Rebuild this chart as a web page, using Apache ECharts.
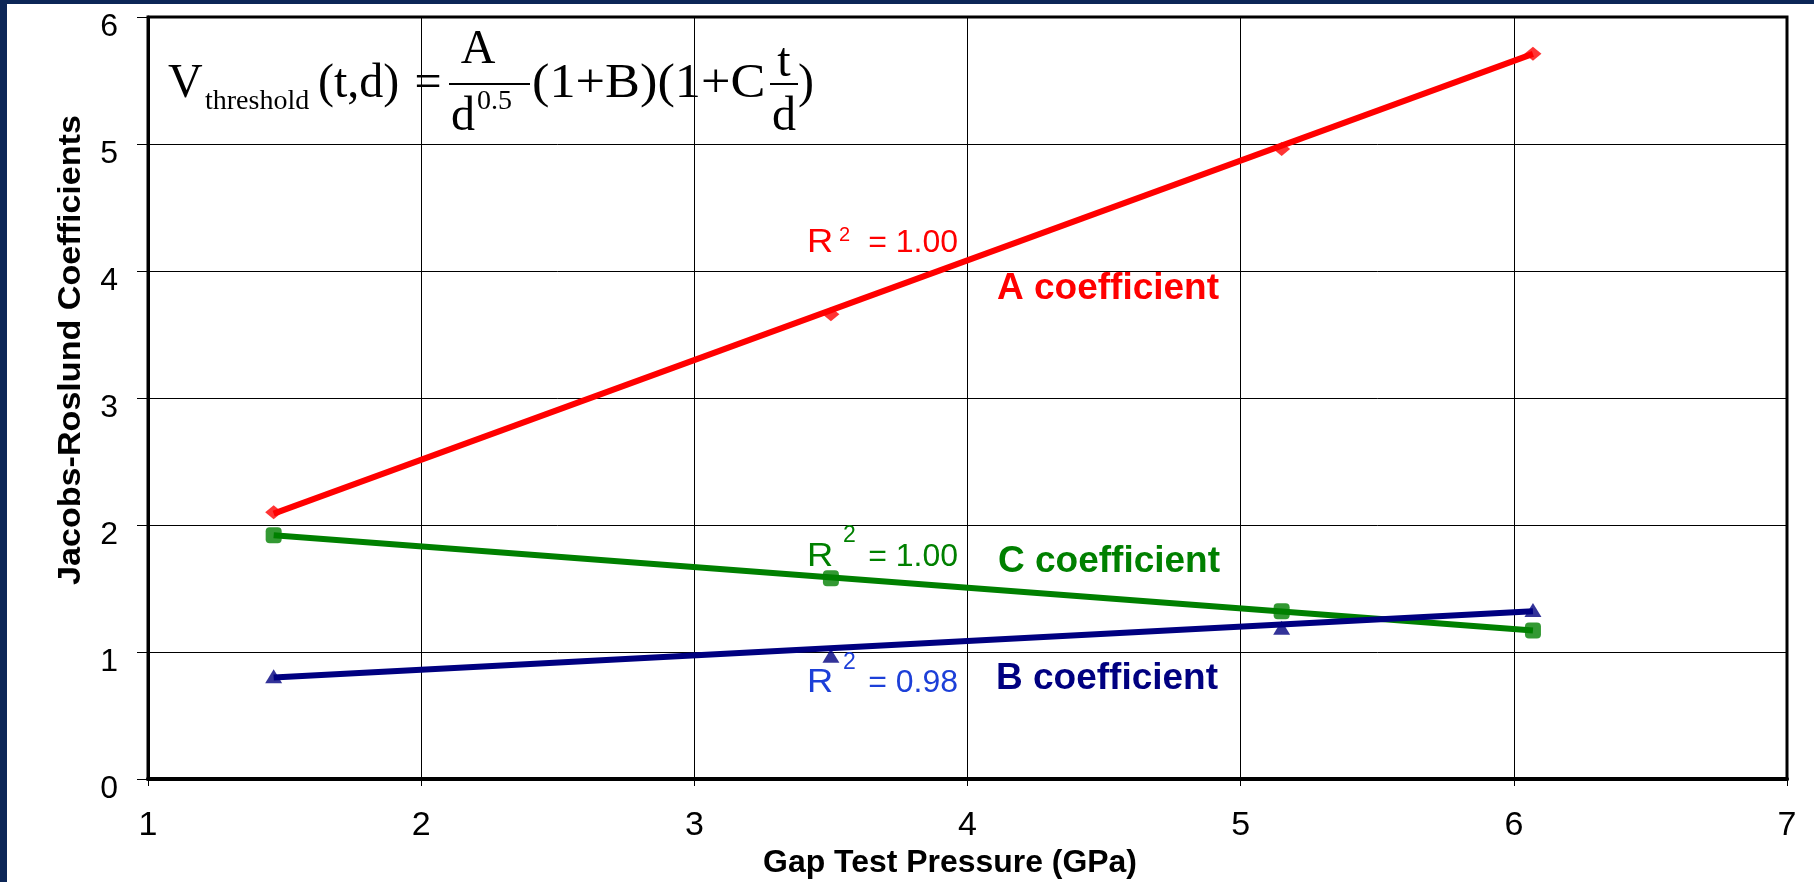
<!DOCTYPE html>
<html>
<head>
<meta charset="utf-8">
<script src="https://cdn.jsdelivr.net/npm/echarts@6/dist/echarts.min.js"></script>
<style>
html,body{margin:0;padding:0;background:#0c2657;}
#chart{width:1814px;height:882px;}
</style>
</head>
<body>
<div id="chart"></div>
<script>
// ---- data ----
const pressure = [1.46, 3.50, 5.15, 6.07];          // Gap Test Pressure (GPa)
const coefA = [2.10, 3.66, 4.96, 5.71];
const coefB = [0.81, 0.97, 1.19, 1.33];
const coefC = [1.92, 1.58, 1.32, 1.17];
// linear trendline end points (as drawn)
const trendX = [1.46, 6.07];
const trendA = [2.09, 5.71];
const trendB = [0.80, 1.32];
const trendC = [1.92, 1.17];
const xTicks = [1, 2, 3, 4, 5, 6, 7];
const yTicks = [0, 1, 2, 3, 4, 5, 6];
const r2A = '1.00', r2B = '0.98', r2C = '1.00';

const pairs = (xs, ys) => xs.map((x, i) => [x, ys[i]]);

const RED = '#ff0000', GREEN = '#008000', NAVY = '#000080', BLUE = '#1c3fd8';
const SANS = 'Liberation Sans, Arial, sans-serif';
const SERIF = 'Liberation Serif, Times New Roman, serif';

function txt(text, x, y, opt) {
  opt = opt || {};
  return {
    type: 'text', x: x, y: y, z: 100,
    rotation: opt.rotation || 0,
    scaleX: opt.scaleX || 1, scaleY: opt.scaleY || 1,
    style: {
      text: text,
      fill: opt.color || '#000',
      font: (opt.bold ? 'bold ' : '') + (opt.size || 20) + 'px ' + (opt.family || SANS),
      textAlign: opt.align || 'left',
      textVerticalAlign: 'middle'
    }
  };
}
function bar(x1, x2, y) {
  return { type: 'line', z: 100, shape: { x1: x1, y1: y, x2: x2, y2: y },
    style: { stroke: '#000', lineWidth: 2 } };
}

const chart = echarts.init(document.getElementById('chart'));
const option = {
  backgroundColor: '#ffffff',
  animation: false,
  grid: { left: 148, top: 17, right: 27, bottom: 103, show: true,
    borderColor: '#000', borderWidth: 3, backgroundColor: '#fff' },
  xAxis: {
    type: 'value', min: xTicks[0], max: xTicks[xTicks.length - 1], interval: 1,
    axisLine: { show: true, lineStyle: { color: '#000', width: 4 } },
    axisTick: { show: true, length: 7, lineStyle: { color: '#000', width: 1 } },
    splitLine: { show: true, lineStyle: { color: '#000', width: 1 } },
    axisLabel: { fontSize: 34, lineHeight: 34, color: '#000', margin: 30, fontFamily: SANS }
  },
  yAxis: {
    type: 'value', min: yTicks[0], max: yTicks[yTicks.length - 1], interval: 1,
    axisLine: { show: true, lineStyle: { color: '#000', width: 3 } },
    axisTick: { show: true, length: 11, lineStyle: { color: '#000', width: 1 } },
    splitLine: { show: true, lineStyle: { color: '#000', width: 1 } },
    axisLabel: { fontSize: 32, lineHeight: 20, verticalAlign: 'top', color: '#000', margin: 30, fontFamily: SANS }
  },
  series: [
    { type: 'line', data: pairs(trendX, trendA), showSymbol: false, lineStyle: { color: RED, width: 6 }, z: 3 },
    { type: 'line', data: pairs(trendX, trendC), showSymbol: false, lineStyle: { color: GREEN, width: 6 }, z: 3 },
    { type: 'line', data: pairs(trendX, trendB), showSymbol: false, lineStyle: { color: NAVY, width: 6 }, z: 3 },
    { type: 'scatter', data: pairs(pressure, coefA), symbol: 'diamond', symbolSize: [17, 14], itemStyle: { color: RED }, z: 4 },
    { type: 'scatter', data: pairs(pressure, coefC), symbol: 'roundRect', symbolSize: 16, itemStyle: { color: GREEN }, z: 4 },
    { type: 'scatter', data: pairs(pressure, coefB), symbol: 'triangle', symbolSize: [17, 14], itemStyle: { color: NAVY }, z: 4 }
  ],
  graphic: [
    // navy frame strips
    { type: 'rect', shape: { x: 0, y: 0, width: 7, height: 882 }, style: { fill: '#0c2657' }, z: 100 },
    { type: 'rect', shape: { x: 0, y: 0, width: 1814, height: 4 }, style: { fill: '#0c2657' }, z: 100 },
    // axis titles
    txt('Jacobs-Roslund Coefficients', 71, 350, { bold: true, size: 31, rotation: Math.PI / 2, align: 'center', scaleX: 1.1 }),
    txt('Gap Test Pressure (GPa)', 950, 863, { bold: true, size: 31, align: 'center', scaleX: 1.03 }),
    // formula
    txt('V', 168, 84, { size: 48, family: SERIF }),
    txt('threshold', 205, 102, { size: 28, family: SERIF }),
    txt('(t,d)', 318, 84, { size: 48, family: SERIF }),
    txt('=', 428, 84, { size: 48, family: SERIF, align: 'center' }),
    txt('A', 478, 50, { size: 48, family: SERIF, align: 'center' }),
    bar(449, 530, 84),
    txt('d', 451, 117, { size: 48, family: SERIF }),
    txt('0.5', 477, 102, { size: 28, family: SERIF }),
    txt('(1+B)(1+C', 532, 84, { size: 48, family: SERIF, scaleX: 1.09 }),
    txt('t', 784, 63, { size: 48, family: SERIF, align: 'center' }),
    bar(770, 798, 84),
    txt('d', 784, 117, { size: 48, family: SERIF, align: 'center' }),
    txt(')', 798, 84, { size: 48, family: SERIF }),
    // A annotations
    txt('R', 807, 243, { size: 33, color: RED, scaleX: 1.1 }),
    txt('2', 839, 235, { size: 20, color: RED }),
    txt(' = ' + r2A, 958, 243, { size: 32, color: RED, align: 'right' }),
    txt('A coefficient', 997, 289, { size: 37, bold: true, color: RED }),
    // C annotations
    txt('R', 807, 557, { size: 33, color: GREEN, scaleX: 1.1 }),
    txt('2', 843, 536, { size: 23, color: GREEN }),
    txt(' = ' + r2C, 958, 557, { size: 32, color: GREEN, align: 'right' }),
    txt('C coefficient', 998, 562, { size: 37, bold: true, color: GREEN }),
    // B annotations
    txt('R', 807, 683, { size: 33, color: BLUE, scaleX: 1.1 }),
    txt('2', 843, 663, { size: 23, color: BLUE }),
    txt(' = ' + r2B, 958, 683, { size: 32, color: BLUE, align: 'right' }),
    txt('B coefficient', 996, 679, { size: 37, bold: true, color: NAVY })
  ]
};
chart.setOption(option);
</script>
</body>
</html>
